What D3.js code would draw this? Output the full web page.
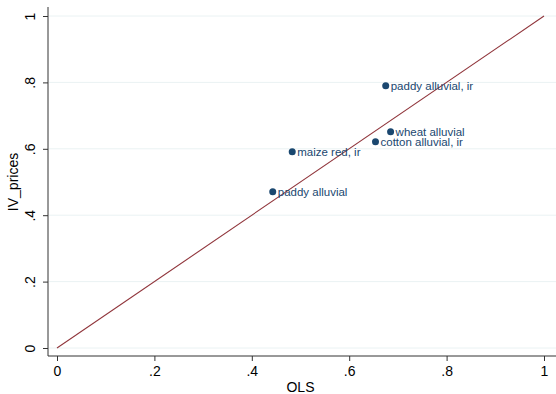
<!DOCTYPE html>
<html>
<head>
<meta charset="utf-8">
<script src="https://cdn.jsdelivr.net/npm/d3@7"></script>
<style>
  html, body { margin: 0; padding: 0; background: #ffffff; }
  svg text { font-family: "Liberation Sans", Arial, sans-serif; }
</style>
</head>
<body>
<svg id="chart" width="556" height="394"></svg>
<script>
// Crop estimates: OLS vs IV (prices)
const labels = ["paddy alluvial", "maize red, ir", "cotton alluvial, ir", "wheat alluvial", "paddy alluvial, ir"];
const olsValues = [0.443, 0.483, 0.654, 0.685, 0.675];
const ivValues = [0.471, 0.591, 0.621, 0.651, 0.790];
const tickValues = [0, 0.2, 0.4, 0.6, 0.8, 1];
const tickLabels = ["0", ".2", ".4", ".6", ".8", "1"];
const diagonal = [[0, 0], [1, 1]];

const svg = d3.select("#chart");
const x = d3.scaleLinear().domain([0, 1]).range([57, 544]);
const y = d3.scaleLinear().domain([0, 1]).range([348, 16]);
const plotLeft = 48, plotBottom = 356, plotTop = 7, plotRight = 556;

const navy = "#1a476f", red = "#90353b", axisColor = "#333333";

// horizontal grid lines
svg.append("g").selectAll("line").data(tickValues).join("line")
  .attr("x1", plotLeft + 1).attr("x2", plotRight)
  .attr("y1", d => y(d)).attr("y2", d => y(d))
  .attr("stroke", "#eaf2f3").attr("stroke-width", 1);

// y axis
const yAxis = d3.axisLeft(y).tickValues(tickValues)
  .tickFormat((d, i) => tickLabels[i]).tickSize(5).tickPadding(4);
const gy = svg.append("g").attr("transform", `translate(${plotLeft},0)`).call(yAxis);
gy.select(".domain").attr("d", `M0,${plotTop}V${plotBottom}`).attr("stroke", axisColor);
gy.selectAll(".tick line").attr("stroke", axisColor);
gy.selectAll(".tick text")
  .attr("font-size", 14).attr("fill", "#000")
  .attr("x", null).attr("dy", null)
  .attr("text-anchor", "middle")
  .attr("transform", "translate(-13,0) rotate(-90)");

// x axis
const xAxis = d3.axisBottom(x).tickValues(tickValues)
  .tickFormat((d, i) => tickLabels[i]).tickSize(5).tickPadding(5);
const gx = svg.append("g").attr("transform", `translate(0,${plotBottom})`).call(xAxis);
gx.select(".domain").attr("d", `M${plotLeft},0H${plotRight}`).attr("stroke", axisColor);
gx.selectAll(".tick line").attr("stroke", axisColor);
gx.selectAll(".tick text").attr("font-size", 14).attr("fill", "#000");

// axis titles
svg.append("text").attr("x", x(0.5)).attr("y", 392)
  .attr("text-anchor", "middle").attr("font-size", 14).text("OLS");
svg.append("text").attr("transform", `translate(18,${y(0.5)}) rotate(-90)`)
  .attr("text-anchor", "middle").attr("font-size", 14).text("IV_prices");

// 45-degree reference line
svg.append("path").datum(diagonal)
  .attr("d", d3.line().x(d => x(d[0])).y(d => y(d[1])))
  .attr("stroke", red).attr("stroke-width", 1.1).attr("fill", "none");

// points with labels
const pts = labels.map((l, i) => ({ label: l, ols: olsValues[i], iv: ivValues[i] }));
svg.append("g").selectAll("circle").data(pts).join("circle")
  .attr("cx", d => x(d.ols)).attr("cy", d => y(d.iv)).attr("r", 3.5)
  .attr("fill", navy);
svg.append("g").selectAll("text").data(pts).join("text")
  .attr("x", d => x(d.ols) + 5).attr("y", d => y(d.iv))
  .attr("dy", "0.35em").attr("font-size", 11.5).attr("fill", navy)
  .text(d => d.label);
</script>
</body>
</html>
